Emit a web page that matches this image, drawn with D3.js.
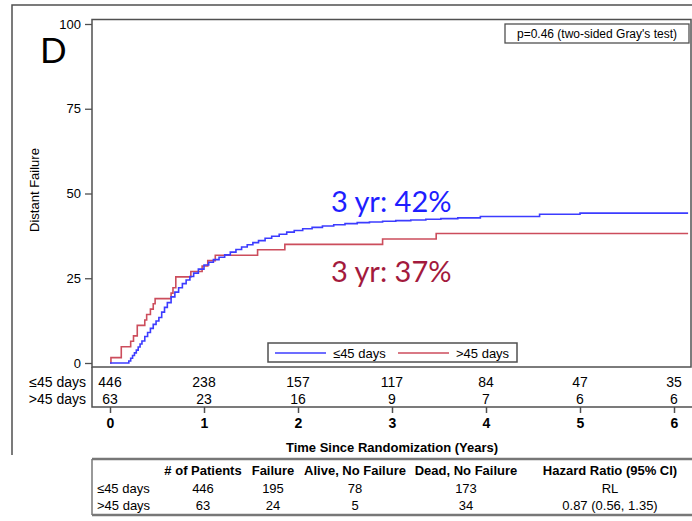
<!DOCTYPE html>
<html>
<head>
<meta charset="utf-8">
<script src="https://cdn.jsdelivr.net/npm/d3@7"></script>
<style>
  body { margin: 0; background: #fff; }
  svg { display: block; font-family: "Liberation Sans", Arial, sans-serif; }
</style>
</head>
<body>
<div id="chart"></div>
<script>
// cumulative incidence of distant failure (%), by time (years)
var blueTime = [0, 0.18, 0.20, 0.22, 0.24, 0.26, 0.28, 0.30, 0.32, 0.34, 0.37, 0.40, 0.43, 0.46, 0.49, 0.52, 0.55, 0.58, 0.61, 0.65,
  0.69, 0.73, 0.77, 0.81, 0.85, 0.89, 0.94, 1.00, 1.05, 1.10, 1.16, 1.22, 1.28, 1.34, 1.40, 1.46, 1.52, 1.58, 1.65, 1.72,
  1.80, 1.88, 1.96, 2.05, 2.15, 2.26, 2.38, 2.50, 2.63, 2.76, 2.90, 3.04, 3.20, 3.36, 3.52, 3.70, 3.94, 4.57, 5.00, 6.15];
var blueFail = [0, 0, 0.6, 1.4, 2.2, 3.0, 3.8, 4.7, 5.6, 6.5, 7.8, 9.0, 10.2, 11.4, 12.4, 13.4, 15.0, 16.4, 17.8, 19.5,
  20.9, 22.2, 23.4, 24.5, 25.5, 26.5, 27.7, 28.9, 29.7, 30.5, 31.2, 31.9, 32.7, 33.5, 34.2, 34.9, 35.5, 36.1, 36.8, 37.4,
  38.0, 38.6, 39.1, 39.6, 40.0, 40.4, 40.8, 41.1, 41.4, 41.6, 41.8, 42.0, 42.2, 42.4, 42.6, 42.8, 43.2, 43.9, 44.2, 44.2];

var redTime = [0, 0.01, 0.12, 0.22, 0.25, 0.29, 0.37, 0.39, 0.43, 0.46, 0.48, 0.65, 0.67, 0.70, 0.86, 0.98, 1.04, 1.12, 1.57, 1.86, 2.90, 3.47, 6.15];
var redFail = [0, 1.6, 4.8, 6.4, 8.0, 11.1, 12.7, 14.3, 15.9, 17.5, 19.0, 20.6, 22.2, 25.4, 27.0, 28.6, 30.2, 31.8, 33.4, 35.0, 36.6, 38.2, 38.2];

var groups = ["≤45 days", ">45 days"];
var atRiskTimes = [0, 1, 2, 3, 4, 5, 6];
var atRiskBlue = [446, 238, 157, 117, 84, 47, 35];
var atRiskRed = [63, 23, 16, 9, 7, 6, 6];

var yTicks = [0, 25, 50, 75, 100];
var annotations = ["3 yr: 42%", "3 yr: 37%"];
var annotValues = [44.5, 24];
var pText = "p=0.46 (two-sided Gray's test)";

var tableHeader = ["", "# of Patients", "Failure", "Alive, No Failure", "Dead, No Failure", "Hazard Ratio (95% CI)"];
var tableBlue = ["≤45 days", "446", "195", "78", "173", "RL"];
var tableRed = [">45 days", "63", "24", "5", "34", "0.87 (0.56, 1.35)"];

var W = 692, H = 521;
var blueCol = "#3c3cff", redCol = "#cc4d5c";
var blueText = "#1e1eff", redText = "#a31a3d";
var frameCol = "#505050";

var svg = d3.select("#chart").append("svg")
    .attr("width", W)
    .attr("height", H);

svg.append("rect").attr("width", W).attr("height", H).attr("fill", "#fff");

var plot = {left: 92, right: 691, top: 19.5, bottom: 367};

var x = d3.scaleLinear().domain([0, 6]).range([110, 674]);
var y = d3.scaleLinear().domain([0, 100]).range([363, 24]);

// outer panel frame
svg.append("path")
    .attr("d", "M12,455V5H" + W)
    .attr("fill", "none")
    .attr("stroke", frameCol)
    .attr("stroke-width", 1.5);

// panel letter
svg.append("text")
    .attr("x", 40).attr("y", 63)
    .style("font-family", "Lato, 'Open Sans', sans-serif")
    .style("font-size", "35px")
    .text("D");

// plot frame
svg.append("rect")
    .attr("x", plot.left).attr("y", plot.top)
    .attr("width", plot.right - plot.left)
    .attr("height", plot.bottom - plot.top)
    .attr("fill", "none")
    .attr("stroke", frameCol)
    .attr("stroke-width", 1.5);

// y axis
var yAxis = svg.append("g")
    .attr("transform", "translate(" + plot.left + ",0)")
    .call(d3.axisLeft(y).tickValues(yTicks).tickSize(7).tickPadding(4));
yAxis.select(".domain").remove();
yAxis.selectAll("line").attr("stroke", frameCol).attr("stroke-width", 1.3);
yAxis.selectAll("text").style("font-size", "13px").attr("fill", "#000")
    .style("font-family", "'Liberation Sans', Arial, sans-serif");

svg.append("text")
    .attr("transform", "translate(39,190) rotate(-90)")
    .attr("text-anchor", "middle")
    .style("font-size", "13px")
    .text("Distant Failure");

// curves
var line = d3.line()
    .x(function(d){ return x(d[0]); })
    .y(function(d){ return y(d[1]); })
    .curve(d3.curveStepAfter);

var bluePts = blueTime.map(function(t, i){ return [t, blueFail[i]]; });
var redPts = redTime.map(function(t, i){ return [t, redFail[i]]; });

svg.append("path").datum(redPts)
    .attr("d", line)
    .attr("fill", "none")
    .attr("stroke", redCol)
    .attr("stroke-width", 1.6);

svg.append("path").datum(bluePts)
    .attr("d", line)
    .attr("fill", "none")
    .attr("stroke", blueCol)
    .attr("stroke-width", 1.6);

// 3 year annotations
svg.selectAll(".annot")
    .data(annotations)
    .enter().append("text")
    .attr("class", "annot")
    .attr("x", x(2.35))
    .attr("y", function(d, i){ return y(annotValues[i]); })
    .attr("fill", function(d, i){ return i === 0 ? blueText : redText; })
    .style("font-family", "Lato, 'Open Sans', sans-serif")
    .style("font-size", "29px")
    .text(function(d){ return d; });

// p value box
var pBox = svg.append("g").attr("transform", "translate(505,24)");
pBox.append("rect")
    .attr("width", 184).attr("height", 19)
    .attr("fill", "#fff")
    .attr("stroke", frameCol)
    .attr("stroke-width", 1.3);
pBox.append("text")
    .attr("x", 92).attr("y", 14)
    .attr("text-anchor", "middle")
    .style("font-size", "12px")
    .text(pText);

// legend
var leg = svg.append("g").attr("transform", "translate(268,343)");
leg.append("rect")
    .attr("width", 249).attr("height", 19)
    .attr("fill", "#fff")
    .attr("stroke", frameCol)
    .attr("stroke-width", 1.5);
var legItems = leg.selectAll(".li")
    .data(groups)
    .enter().append("g")
    .attr("transform", function(d, i){ return "translate(" + (7 + i * 123) + ",0)"; });
legItems.append("line")
    .attr("x1", 0).attr("x2", 51)
    .attr("y1", 10).attr("y2", 10)
    .attr("stroke", function(d, i){ return i === 0 ? blueCol : redCol; })
    .attr("stroke-width", 1.6);
legItems.append("text")
    .attr("x", 58).attr("y", 14.5)
    .style("font-size", "13px")
    .text(function(d){ return d; });

// at-risk table
svg.append("path")
    .attr("d", "M" + plot.left + "," + plot.bottom + "V407H" + W)
    .attr("fill", "none")
    .attr("stroke", frameCol)
    .attr("stroke-width", 1.5);

var riskRows = [atRiskBlue, atRiskRed];
riskRows.forEach(function(row, r){
  var ry = 387 + r * 17;
  svg.append("text")
      .attr("x", 86).attr("y", ry)
      .attr("text-anchor", "end")
      .style("font-size", "14px")
      .text(groups[r]);
  svg.selectAll(".risk" + r)
      .data(row)
      .enter().append("text")
      .attr("class", "risk" + r)
      .attr("x", function(d, i){ return x(atRiskTimes[i]); })
      .attr("y", ry)
      .attr("text-anchor", "middle")
      .style("font-size", "14px")
      .text(function(d){ return d; });
});

// x axis
var xAxis = svg.append("g")
    .attr("transform", "translate(0,407)")
    .call(d3.axisBottom(x).tickValues(atRiskTimes).tickSize(6).tickPadding(5).tickFormat(d3.format("d")));
xAxis.select(".domain").remove();
xAxis.selectAll("line").attr("stroke", frameCol).attr("stroke-width", 1.5);
xAxis.selectAll("text")
    .attr("fill", "#000")
    .style("font-size", "14px")
    .style("font-weight", "bold")
    .style("font-family", "'Liberation Sans', Arial, sans-serif");

svg.append("text")
    .attr("x", 392).attr("y", 452)
    .attr("text-anchor", "middle")
    .style("font-size", "13px")
    .style("font-weight", "bold")
    .text("Time Since Randomization (Years)");

// summary table
var colX = [97, 203, 273, 355, 466, 610];
[459, 515].forEach(function(ly){
  svg.append("line")
      .attr("x1", 92).attr("x2", W)
      .attr("y1", ly).attr("y2", ly)
      .attr("stroke", "#777")
      .attr("stroke-width", 2.5);
});
svg.append("line")
    .attr("x1", 92).attr("x2", 92)
    .attr("y1", 459).attr("y2", 515)
    .attr("stroke", "#777")
    .attr("stroke-width", 1.5);

[tableHeader, tableBlue, tableRed].forEach(function(row, r){
  svg.selectAll(".trow" + r)
      .data(row)
      .enter().append("text")
      .attr("class", "trow" + r)
      .attr("x", function(d, i){ return colX[i]; })
      .attr("y", 475 + r * 17.5)
      .attr("text-anchor", function(d, i){ return i === 0 ? "start" : "middle"; })
      .style("font-size", "13px")
      .style("font-weight", r === 0 ? "bold" : "normal")
      .text(function(d){ return d; });
});
</script>
</body>
</html>
